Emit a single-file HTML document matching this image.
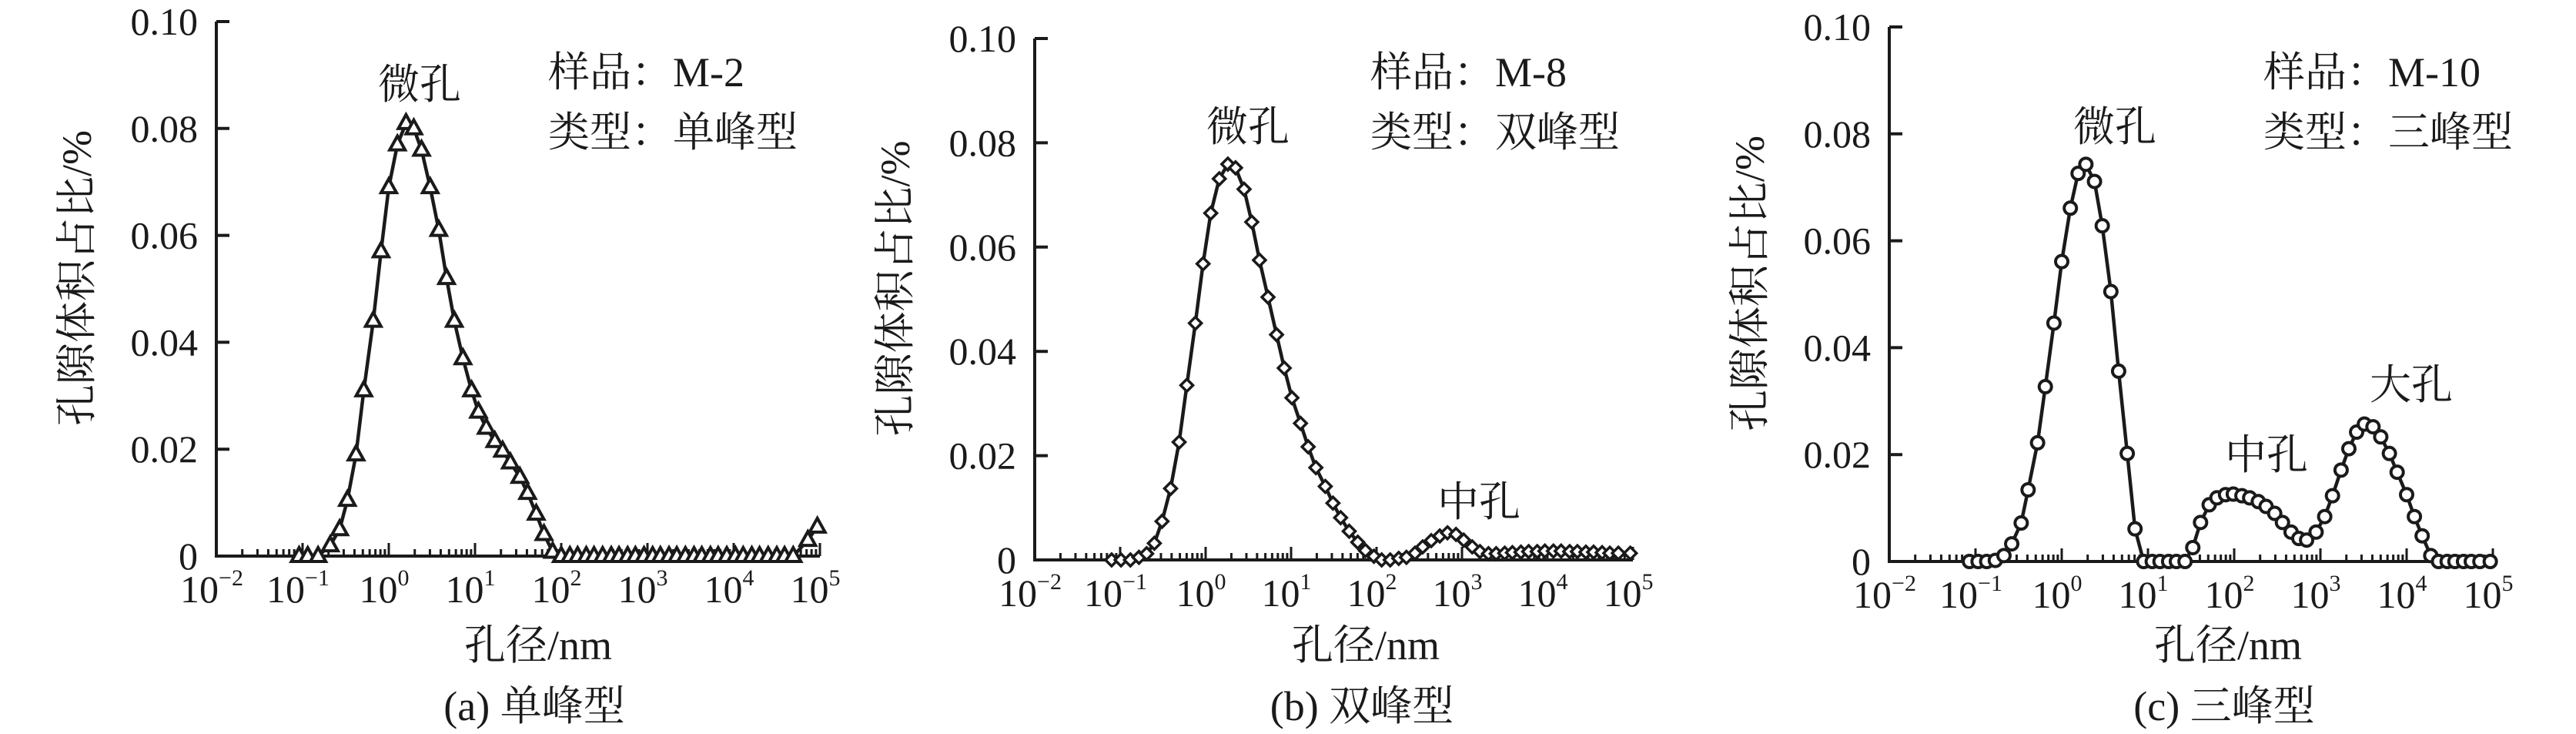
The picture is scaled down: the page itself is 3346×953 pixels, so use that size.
<!DOCTYPE html>
<html><head><meta charset="utf-8"><style>
html,body{margin:0;padding:0;background:#fff;}
svg{display:block;}
text{fill:#1a1a1a;}
.num{font-family:"Liberation Serif",serif;font-size:50px;}
.cjk{font-family:"Liberation Serif","Noto Serif CJK SC",serif;font-size:54px;}
</style></head><body>
<svg id="chart" width="3346" height="953" viewBox="0 0 3346 953" xmlns="http://www.w3.org/2000/svg"></svg>
<script>
// Panel (a) M-2 single peak: log10(pore diameter nm), fraction %
const xsA = [-1.04,-0.94,-0.82,-0.68,-0.57,-0.48,-0.38,-0.29,-0.18,-0.09,0.0,0.10,0.20,0.29,0.38,0.48,0.58,0.67,0.76,0.86,0.96,1.04,1.13,1.23,1.32,1.41,1.52,1.61,1.71,1.80,1.90,2.0,2.1,2.19,2.29,2.38,2.48,2.58,2.67,2.77,2.86,2.96,3.06,3.15,3.25,3.34,3.44,3.54,3.63,3.73,3.82,3.92,4.02,4.11,4.21,4.30,4.40,4.50,4.59,4.69,4.86,4.97];
const ysA = [0,0,0,0.002,0.005,0.0105,0.019,0.031,0.044,0.057,0.069,0.077,0.081,0.080,0.076,0.069,0.061,0.052,0.044,0.037,0.031,0.027,0.024,0.0215,0.0197,0.0175,0.0148,0.0118,0.0079,0.0041,0.0008,0,0,0,0,0,0,0,0,0,0,0,0,0,0,0,0,0,0,0,0,0,0,0,0,0,0,0,0,0,0.003,0.0055];
// Panel (b) M-8 double peak
const xsB = [-1.10,-0.99,-0.88,-0.78,-0.69,-0.60,-0.51,-0.41,-0.31,-0.22,-0.12,-0.03,0.06,0.16,0.26,0.35,0.45,0.54,0.63,0.73,0.83,0.92,1.01,1.11,1.20,1.29,1.40,1.49,1.58,1.68,1.78,1.87,1.97,2.06,2.16,2.26,2.35,2.45,2.54,2.64,2.74,2.83,2.93,3.02,3.12,3.21,3.31,3.40,3.50,3.59,3.69,3.78,3.88,3.97,4.07,4.16,4.26,4.35,4.45,4.54,4.64,4.73,4.83,4.97];
const ysB = [0,0,0,0.0005,0.0012,0.0032,0.0074,0.0137,0.0226,0.0335,0.0454,0.0568,0.0665,0.0731,0.0759,0.0752,0.0711,0.0648,0.0575,0.0504,0.0432,0.0368,0.0311,0.0262,0.0217,0.0177,0.0141,0.0109,0.0081,0.0055,0.0034,0.0018,0.0007,0,0,0.0003,0.0005,0.0013,0.0025,0.0037,0.0046,0.0052,0.0049,0.0038,0.0025,0.0016,0.0012,0.0012,0.0013,0.0014,0.0015,0.0016,0.0016,0.0017,0.0017,0.0017,0.0016,0.0016,0.0015,0.0015,0.0014,0.0013,0.0013,0.0013];
// Panel (c) M-10 triple peak
const xsC = [-1.07,-0.97,-0.87,-0.77,-0.67,-0.58,-0.47,-0.39,-0.28,-0.19,-0.09,0.0,0.10,0.19,0.28,0.38,0.47,0.57,0.66,0.76,0.85,0.95,1.05,1.14,1.24,1.33,1.43,1.52,1.61,1.71,1.80,1.90,1.99,2.09,2.18,2.28,2.37,2.47,2.56,2.66,2.75,2.84,2.95,3.05,3.14,3.24,3.33,3.42,3.51,3.61,3.70,3.80,3.89,4.00,4.09,4.18,4.28,4.37,4.47,4.56,4.66,4.75,4.85,4.97];
const ysC = [0,0,0,0.0002,0.0011,0.0033,0.0072,0.0134,0.0222,0.0327,0.0446,0.0561,0.0661,0.0726,0.0743,0.0711,0.0628,0.0505,0.0356,0.0202,0.0061,0,0,0,0,0,0,0.0026,0.0073,0.0106,0.0119,0.0125,0.0126,0.0123,0.0119,0.0112,0.0103,0.009,0.0073,0.0055,0.0043,0.004,0.0055,0.0084,0.0123,0.0171,0.0211,0.0242,0.0257,0.0252,0.0233,0.0202,0.0167,0.0125,0.0084,0.0048,0.0011,0,0,0,0,0,0,0];
const yTicks = [0,0.02,0.04,0.06,0.08,0.10];
const yTickLabels = ["0","0.02","0.04","0.06","0.08","0.10"];
const xDecades = [-2,-1,0,1,2,3,4,5];

const NS="http://www.w3.org/2000/svg";
const svg=document.getElementById('chart');
function mk(tag,attrs,parent){const e=document.createElementNS(NS,tag);for(const k in attrs)e.setAttribute(k,attrs[k]);(parent||svg).appendChild(e);return e;}

const panels=[
 {id:'a',ax:281,top:28,base:722,dec:112,xs:xsA,ys:ysA,m:'tri',sample:'M-2',type:'单峰型',cap:'(a) 单峰型',
  sx:712,titleX:699,labels:[['微孔',545,110]]},
 {id:'b',ax:1344,top:50,base:727,dec:111,xs:xsB,ys:ysB,m:'dia',sample:'M-8',type:'双峰型',cap:'(b) 双峰型',
  sx:1780,titleX:1774,labels:[['微孔',1621,165],['中孔',1921,652]]},
 {id:'c',ax:2454,top:35,base:729,dec:112,xs:xsC,ys:ysC,m:'cir',sample:'M-10',type:'三峰型',cap:'(c) 三峰型',
  sx:2940,titleX:2894,labels:[['微孔',2747,165],['中孔',2944,591],['大孔',3132,500]]}
];

panels.forEach(p=>{
  const g=mk('g',{});
  
  
  const X=v=>p.ax+(v+2)*p.dec;
  const Y=v=>p.base-(v/0.10)*(p.base-p.top);
  const right=X(5);
  const axes=mk('path',{d:`M${p.ax},${p.top} L${p.ax},${p.base} L${right},${p.base}`,fill:'none',stroke:'#1a1a1a','stroke-width':4},g);
  
  
  yTicks.forEach((t,i)=>{
    mk('line',{x1:p.ax,x2:p.ax+17,y1:Y(t),y2:Y(t),stroke:'#1a1a1a','stroke-width':4},g);
    const tl=mk('text',{x:p.ax-24,y:Y(t)+17,'text-anchor':'end',class:'num'},g);
    tl.textContent=yTickLabels[i];
    
    
  });
  xDecades.forEach(d=>{
    const x=X(d);
    mk('line',{x1:x,x2:x,y1:p.base,y2:p.base-17,stroke:'#1a1a1a','stroke-width':3},g);
    if(d<5){for(let k=2;k<=9;k++){const xm=X(d+Math.log10(k));mk('line',{x1:xm,x2:xm,y1:p.base,y2:p.base-9,stroke:'#1a1a1a','stroke-width':3},g);}}
    const t=mk('text',{x:x-6,y:p.base+60,'text-anchor':'middle',class:'num'},g);
    
    
    t.appendChild(document.createTextNode('10'));
    const sp=mk('tspan',{dy:-22,'font-size':30},t);
    sp.textContent=(d<0?'\u2212':'')+Math.abs(d);
  });
  const pts=p.xs.map((v,i)=>X(v)+','+Y(p.ys[i])).join(' ');
  const line=mk('polyline',{points:pts,fill:'none',stroke:'#1a1a1a','stroke-width':4.5,'stroke-linejoin':'round'},g);
  
  
  p.xs.forEach((v,i)=>{
    const cx=X(v),cy=Y(p.ys[i]);let el;
    if(p.m==='tri'){el=mk('path',{d:`M${cx},${cy-11} L${cx+10},${cy+7} L${cx-10},${cy+7} Z`,fill:'#fff',stroke:'#1a1a1a','stroke-width':4},g);}
    else if(p.m==='dia'){el=mk('path',{d:`M${cx},${cy-8} L${cx+8},${cy} L${cx},${cy+8} L${cx-8},${cy} Z`,fill:'#fff',stroke:'#1a1a1a','stroke-width':3.5},g);}
    else{el=mk('circle',{cx:cx,cy:cy,r:8,fill:'#fff',stroke:'#1a1a1a','stroke-width':4},g);}
    
    
  });
  const yt=mk('text',{x:0,y:0,'text-anchor':'middle',class:'cjk',transform:`translate(${p.ax-163},${(p.top+p.base)/2-14}) rotate(-90)`},g);
  yt.textContent='孔隙体积占比/%';
  
  
  const xt=mk('text',{x:p.titleX,y:856,'text-anchor':'middle',class:'cjk'},g);
  xt.textContent='孔径/nm';
  
  
  const cp=mk('text',{x:p.titleX-5,y:935,'text-anchor':'middle',class:'cjk'},g);
  cp.textContent=p.cap;
  
  
  const s1=mk('text',{x:p.sx,y:112,class:'cjk'},g);
  s1.textContent='样品：'+p.sample;
  
  
  const s2=mk('text',{x:p.sx,y:190,class:'cjk'},g);
  s2.textContent='类型：'+p.type;
  
  
  p.labels.forEach(l=>{
    const t=mk('text',{x:l[1],y:l[2]+18,'text-anchor':'middle',class:'cjk'},g);
    t.textContent=l[0];
    
    
  });
});
</script>
</body></html>
